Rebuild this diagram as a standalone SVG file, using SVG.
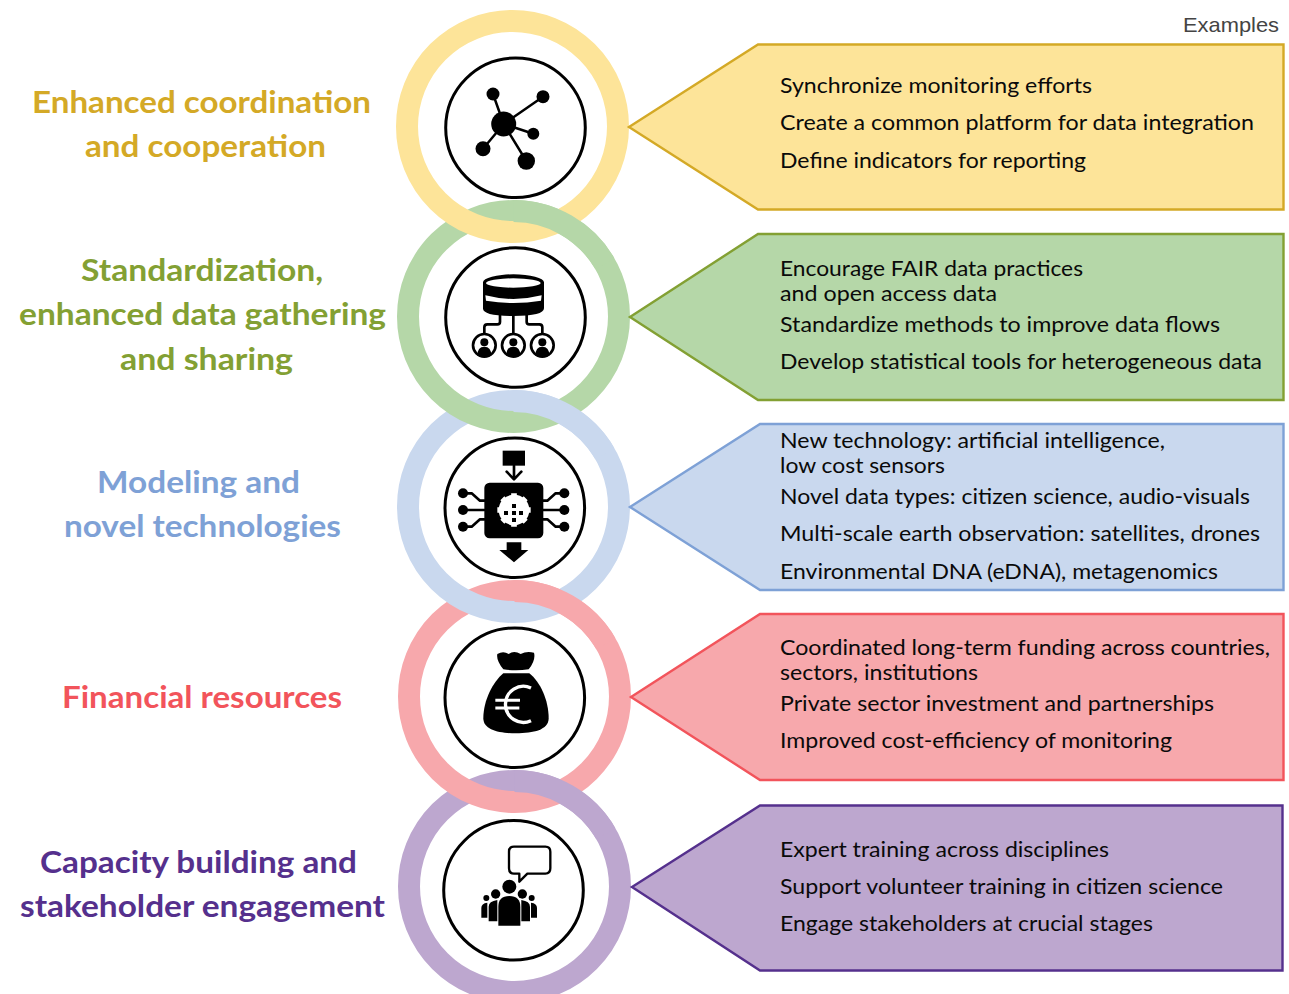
<svg xmlns="http://www.w3.org/2000/svg" width="1289" height="994" viewBox="0 0 1289 994">
<style>
text{font-family:"Lato","Open Sans","Liberation Sans",sans-serif}
.b{font-size:22px;fill:#0a0a0a}
.l{font-size:31px;font-weight:700;text-anchor:start}
.ex{font-family:"Liberation Sans",Arial,sans-serif;font-size:21px;fill:#444}
.ring{fill:none;stroke-width:22}
.ic{fill:none;stroke:#000;stroke-width:3}
.p{stroke-width:2.4}
.y{stroke:#FDE499}.g{stroke:#B5D7A8}.c{stroke:#C9D8EE}.r{stroke:#F7A8AC}.v{stroke:#BDA7CF}
.k{fill:#000;stroke:none}
.ks{fill:none;stroke:#000;stroke-linejoin:round;stroke-linecap:round}
.w{fill:#fff;stroke:none}
</style>
<rect width="1289" height="994" fill="#fff"/>
<g id="rings">
<circle class="ring v" cx="514.5" cy="886.5" r="105.5"/>
<circle class="ring r" cx="514.5" cy="696.5" r="105.5"/>
<circle class="ring c" cx="513.5" cy="506.5" r="105.5"/>
<circle class="ring g" cx="513.5" cy="316.5" r="105.5"/>
<circle class="ring y" cx="512.5" cy="126.5" r="105.5"/>
<path class="ring g" d="M513.5 211A105.500 105.500 0 0 1 604.900 263.750"/>
<path class="ring c" d="M513.500 401A105.500 105.500 0 0 1 604.900 453.750"/>
<path class="ring r" d="M514.500 591A105.500 105.500 0 0 1 605.900 643.750"/>
<path class="ring v" d="M514.500 781A105.500 105.500 0 0 1 605.900 833.750"/>
</g>
<g id="node1">
<text class="l" x="32" y="113" fill="#D4A926" textLength="339" lengthAdjust="spacingAndGlyphs">Enhanced coordination</text>
<text class="l" x="85" y="157" fill="#D4A926" textLength="241" lengthAdjust="spacingAndGlyphs">and cooperation</text>
<circle class="ic" cx="515.500" cy="127.800" r="69.800"/>
<g class="k"><circle cx="503.700" cy="124" r="12.500"/><circle cx="493" cy="94" r="6.500"/><circle cx="543" cy="96.700" r="6.500"/><circle cx="533.300" cy="133.700" r="6"/><circle cx="483" cy="148.700" r="7.500"/><circle cx="526.300" cy="161" r="8.700"/></g>
<path class="ks" stroke-width="2.500" d="M503.700 124L493 94M503.700 124L543 96.700M503.700 124L533.300 133.700M503.700 124L483 148.700M503.700 124L526.300 161"/>
<polygon class="p" points="629,127 758,44.500 1283.500,44.500 1283.500,209.500 758,209.500" fill="#FDE499" stroke="#D4A926"/>
<text class="b" x="780" y="93" textLength="312" lengthAdjust="spacingAndGlyphs">Synchronize monitoring efforts</text>
<text class="b" x="780" y="130" textLength="474" lengthAdjust="spacingAndGlyphs">Create a common platform for data integration</text>
<text class="b" x="780" y="168" textLength="306" lengthAdjust="spacingAndGlyphs">Define indicators for reporting</text>
</g>
<g id="node2">
<text class="l" x="81" y="281" fill="#83A033" textLength="242" lengthAdjust="spacingAndGlyphs">Standardization,</text>
<text class="l" x="19" y="325" fill="#83A033" textLength="367" lengthAdjust="spacingAndGlyphs">enhanced data gathering</text>
<text class="l" x="120" y="370" fill="#83A033" textLength="173" lengthAdjust="spacingAndGlyphs">and sharing</text>
<circle class="ic" cx="515.500" cy="317.500" r="69.800"/>
<g transform="translate(390,190) scale(.33333)">
<path class="k" d="M279 277A91 24 0 0 1 462 277V355Q462 378 370 378T279 355Z"/>
<ellipse class="w" cx="370" cy="279" rx="82" ry="14"/>
<path class="w" d="M286 316Q370 338 455 316L453 332Q370 346 288 332Z"/>
<path class="ks" stroke-width="8" d="M370 375V430M330 375V396Q330 403 322 403H292Q283 403 283 412V430M410 375V396Q410 403 418 403H448Q457 403 457 412V430"/>
<g id="n2p">
<circle cx="283" cy="466" r="34" fill="#fff" stroke="#000" stroke-width="8"/><circle class="k" cx="283" cy="457" r="12"/><path class="k" d="M262 497Q262 470 283 470T304 497Q283 505 262 497Z"/>
<circle cx="370" cy="466" r="34" fill="#fff" stroke="#000" stroke-width="8"/><circle class="k" cx="370" cy="457" r="12"/><path class="k" d="M349 497Q349 470 370 470T391 497Q370 505 349 497Z"/>
<circle cx="457" cy="466" r="34" fill="#fff" stroke="#000" stroke-width="8"/><circle class="k" cx="457" cy="457" r="12"/><path class="k" d="M436 497Q436 470 457 470T478 497Q457 505 436 497Z"/>
</g>
</g>
<polygon class="p" points="630,317 758,234 1283.500,234 1283.500,400 758,400" fill="#B5D7A8" stroke="#83A033"/>
<text class="b" x="780" y="276" textLength="303" lengthAdjust="spacingAndGlyphs">Encourage FAIR data practices</text>
<text class="b" x="780" y="301" textLength="217" lengthAdjust="spacingAndGlyphs">and open access data</text>
<text class="b" x="780" y="332" textLength="440" lengthAdjust="spacingAndGlyphs">Standardize methods to improve data flows</text>
<text class="b" x="780" y="369" textLength="482" lengthAdjust="spacingAndGlyphs">Develop statistical tools for heterogeneous data</text>
</g>
<g id="node3">
<text class="l" x="97" y="493" fill="#7EA1D6" textLength="203" lengthAdjust="spacingAndGlyphs">Modeling and</text>
<text class="l" x="64" y="537" fill="#7EA1D6" textLength="277" lengthAdjust="spacingAndGlyphs">novel technologies</text>
<circle class="ic" cx="514.800" cy="507.700" r="69.800"/>
<g transform="translate(390,380) scale(.33333)">
<rect class="k" x="283" y="308" width="177" height="167" rx="16"/>
<rect class="k" x="338" y="212" width="67" height="45"/>
<path class="ks" stroke-width="8" d="M372 257V298M350 275L372 298L394 275"/>
<path class="k" d="M350 487H394V510H415L372 547L328 510H350Z"/>
<path class="ks" stroke-width="8" d="M219 340H245L270 362H283M219 390H283M219 440H245L270 418H283M523 340H497L472 362H460M523 390H460M523 440H497L472 418H460"/>
<g class="k"><circle cx="219" cy="340" r="15"/><circle cx="219" cy="390" r="15"/><circle cx="219" cy="440" r="15"/><circle cx="523" cy="340" r="15"/><circle cx="523" cy="390" r="15"/><circle cx="523" cy="440" r="15"/></g>
<circle class="w" cx="372" cy="390" r="46"/>
<path d="M372 340V440M322 390H422M337 355L407 425M407 355L337 425" stroke="#fff" stroke-width="17" stroke-dasharray="14 72 14 0" fill="none"/>
<g class="k"><rect x="366" y="372" width="12" height="12"/><rect x="342" y="393" width="12" height="12"/><rect x="366" y="393" width="12" height="12"/><rect x="387" y="393" width="12" height="12"/><rect x="366" y="414" width="12" height="12"/></g>
</g>
<polygon class="p" points="630,507 760,424 1283.500,424 1283.500,590 760,590" fill="#C9D8EE" stroke="#7EA1D6"/>
<text class="b" x="780" y="448" textLength="385" lengthAdjust="spacingAndGlyphs">New technology: artificial intelligence,</text>
<text class="b" x="780" y="473" textLength="165" lengthAdjust="spacingAndGlyphs">low cost sensors</text>
<text class="b" x="780" y="504" textLength="470" lengthAdjust="spacingAndGlyphs">Novel data types: citizen science, audio-visuals</text>
<text class="b" x="780" y="541" textLength="480" lengthAdjust="spacingAndGlyphs">Multi-scale earth observation: satellites, drones</text>
<text class="b" x="780" y="579" textLength="438" lengthAdjust="spacingAndGlyphs">Environmental DNA (eDNA), metagenomics</text>
</g>
<g id="node4">
<text class="l" x="62" y="708" fill="#F2545B" textLength="280" lengthAdjust="spacingAndGlyphs">Financial resources</text>
<circle class="ic" cx="514.800" cy="697.700" r="69.800"/>
<g transform="translate(390,570) scale(.33333)">
<path class="k" d="M322 252Q340 242 356 252Q372 240 392 252Q410 242 432 248Q438 270 416 298Q378 304 340 298Q318 270 322 252Z"/>
<path class="k" d="M340 310H418C450 335 476 390 476 445C476 480 430 490 378 490C326 490 280 480 280 445C280 390 310 335 340 310Z"/>
<path d="M423 354A54 54 0 1 0 423 452" fill="none" stroke="#fff" stroke-width="10"/>
<path d="M316 391H390M316 414H388" fill="none" stroke="#fff" stroke-width="9"/>
</g>
<polygon class="p" points="631,697 760,614 1283.500,614 1283.500,780 760,780" fill="#F7A8AC" stroke="#F2545B"/>
<text class="b" x="780" y="655" textLength="490" lengthAdjust="spacingAndGlyphs">Coordinated long-term funding across countries,</text>
<text class="b" x="780" y="680" textLength="198" lengthAdjust="spacingAndGlyphs">sectors, institutions</text>
<text class="b" x="780" y="711" textLength="434" lengthAdjust="spacingAndGlyphs">Private sector investment and partnerships</text>
<text class="b" x="780" y="748" textLength="392" lengthAdjust="spacingAndGlyphs">Improved cost-efficiency of monitoring</text>
</g>
<g id="node5">
<text class="l" x="40" y="873" fill="#55308D" textLength="317" lengthAdjust="spacingAndGlyphs">Capacity building and</text>
<text class="l" x="20" y="917" fill="#55308D" textLength="365" lengthAdjust="spacingAndGlyphs">stakeholder engagement</text>
<circle class="ic" cx="513.500" cy="890.300" r="69.800"/>
<g transform="translate(390,760) scale(.33333)">
<path fill="#fff" stroke="#000" stroke-width="7" stroke-linejoin="round" d="M372 260H466Q481 260 481 275V325Q481 341 466 341H412L388 365V341H372Q357 341 357 325V275Q357 260 372 260Z"/>
<g class="k">
<circle cx="358" cy="380" r="21"/><circle cx="317" cy="402" r="14"/><circle cx="397" cy="402" r="14"/><circle cx="289" cy="414" r="9"/><circle cx="425" cy="414" r="9"/>
<path d="M325 497V440Q325 408 358 408T391 440V497Z"/>
<path d="M296 484V440Q296 424 322 420V484Z"/>
<path d="M420 484V440Q420 424 394 420V484Z"/>
<path d="M274 473V444Q274 430 292 428V473Z"/>
<path d="M441 473V444Q441 430 423 428V473Z"/>
</g>
</g>
<polygon class="p" points="632,887 760,805.500 1282.500,805.500 1282.500,970.500 760,970.500" fill="#BDA7CF" stroke="#55308D"/>
<text class="b" x="780" y="857" textLength="329" lengthAdjust="spacingAndGlyphs">Expert training across disciplines</text>
<text class="b" x="780" y="894" textLength="443" lengthAdjust="spacingAndGlyphs">Support volunteer training in citizen science</text>
<text class="b" x="780" y="931" textLength="373" lengthAdjust="spacingAndGlyphs">Engage stakeholders at crucial stages</text>
</g>
<text id="examples" class="ex" x="1183" y="32" textLength="96" lengthAdjust="spacingAndGlyphs">Examples</text>
</svg>
